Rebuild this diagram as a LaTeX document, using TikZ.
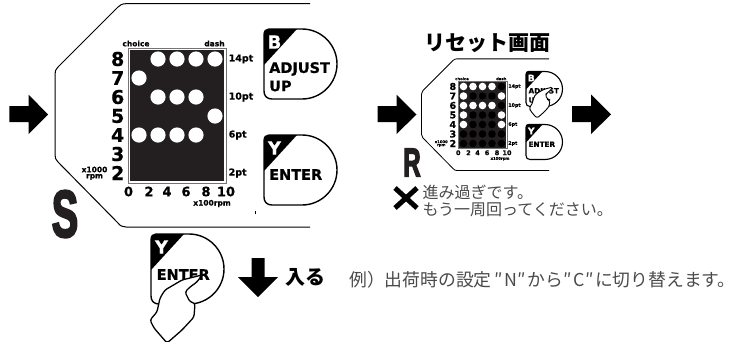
\documentclass[tikz,border=0pt]{standalone}
\usepackage{fontspec}
\setmainfont{Liberation Sans}
\setsansfont{DejaVu Sans}[BoldFeatures={FakeBold=0.6}]
\newfontfamily\jpfont{Noto Sans CJK JP}
\newfontfamily\heavyfont[FakeBold=4]{Liberation Sans Bold}
\definecolor{panelblack}{HTML}{231F20}
\definecolor{jpgray}{HTML}{4A4A4A}
\newcommand{\fsz}[1]{\fontsize{#1}{#1}\selectfont}
\tikzset{
  panel line/.style={draw=black,line width=#1,line join=round},
  btn line/.style={draw=black,line width=#1,fill=white},
  labeltxt/.style={inner sep=0pt,font=\sffamily\bfseries\fsz{#1},text=black},
  bigarrow/.style={fill=black,draw=none},
  handline/.style={draw=black,line width=#1,fill=white,line join=round,rounded corners=2.5pt},
  jptxt/.style={inner sep=0pt,anchor=west,text=jpgray,font=\jpfont\fsz{#1}},
  jpbold/.style={inner sep=0pt,text=black,font=\jpfont\bfseries\fsz{#1}},
}
% button: #1 prefix, #2 x, #3 y, #4 letter, #5 line width, #6 letter size
\newcommand{\drawbutton}[6]{%
  \begin{scope}[shift={(#2,#3)}]
    \path[btn line=#5] (5,0) -- (38,0) .. controls (57.3,0) and (73,15.7) .. (73,35)
      .. controls (73,54.3) and (57.3,70) .. (38,70) -- (8,70)
      .. controls (3,70) and (0,67) .. (0,62) -- (0,6) .. controls (0,2) and (2,0) .. (5,0) -- cycle;
    \fill[black] (0,36) -- (0,6) .. controls (0,2) and (2,0) .. (5,0) -- (33,0) -- cycle;
    \node[labeltxt=#6,text=white,transform shape] (#1letter) at (10.5,13) {#4};
  \end{scope}}
% hand with fingertip at local origin
\newcommand{\drawhand}[5]{%
  \begin{scope}[shift={(#1,#2)},xscale=#3,yscale=#4]
    \path[handline=#5] (0,0) -- (-20,5) -- (-37,15) -- (-42,23) -- (-45,37) -- (-52,45)
      -- (-48,53) -- (-35,68) -- (-28,62) -- (-20,55) -- (-8,42) -- (-7,28) -- (-12,27)
      -- (-17,17) -- (-12,12) -- (-5,7) -- cycle;
  \end{scope}}
% control panel with dot matrix
\newcommand{\drawpanel}[2]{% #1 prefix, #2 line factor
  \path[panel line=#2*1pt] (310,3.7) -- (126,3.7) .. controls (122,3.7) and (120,5) .. (118,7)
    -- (58,67) .. controls (56,69) and (55,71) .. (55,74) -- (55,155)
    .. controls (55,158) and (56,160) .. (58,162) -- (118,223) .. controls (120,226) and (123,227) .. (126,227) -- (310,227);
  \path[draw=black!55,fill=white,line width=#2*.8pt] (128,48) rectangle (226,183);
  \fill[panelblack] (130,50) rectangle (224,181);
  \foreach \l/\yy in {8/59,7/78,6/97,5/116,4/135,3/154,2/173}
    \node[labeltxt=19,anchor=east,transform shape] (#1n\l) at (124.5,\yy) {\l};
  \foreach \l/\xx in {0/128.5,2/149,4/167,6/186,8/206,10/226}
    \node[labeltxt=13,transform shape] (#1x\l) at (\xx,191.5) {\l};
  \node[labeltxt=7.5,transform shape] (#1choice) at (136,43.5) {choice};
  \node[labeltxt=7.5,transform shape] (#1dash) at (214.5,43.5) {dash};
  \node[labeltxt=7.5,transform shape] (#1xh) at (212,203.5) {x100rpm};
  \node[labeltxt=7.5,transform shape] (#1xk) at (94.5,169.5) {x1000};
  \node[labeltxt=7.5,transform shape] (#1rpm) at (94.5,177) {rpm};
  \foreach \l/\yy in {14pt/59,10pt/97,6pt/135,2pt/173}
    \node[labeltxt=9.5,anchor=west,transform shape] (#1p\l) at (228.5,\yy) {\l};
  \drawbutton{#1b}{264}{29}{B}{#2*1.4pt}{18}
  \node[labeltxt=14.5,anchor=west,transform shape] (#1adj) at (269,69) {ADJUST};
  \node[labeltxt=14.5,anchor=west,transform shape] (#1up) at (269,86) {UP};
  \drawbutton{#1y}{264}{135}{Y}{#2*1.4pt}{18}
  \node[labeltxt=14.5,anchor=west,transform shape] (#1ent) at (269,174.5) {ENTER};
}
\begin{document}
\begin{tikzpicture}[x=1pt,y=-1pt]
\useasboundingbox (0,0) rectangle (737,341);
% ---- large panel
\drawpanel{a}{1}
\foreach \xx/\yy in {158/59,177/59,196/59,215/59,139/78,158/97,177/97,196/97,215/116,139/135,158/135,177/135,196/135}
  \fill[white] (\xx,\yy) circle[radius=7.6];
\fill[black] (255.2,210.5) rectangle (256,213.5);
% ---- small panel
\begin{scope}[shift={(394,57)},scale=.5]
  \drawpanel{c}{.8}
  \foreach \xx/\yy in {215/59,158/78,177/78,196/78,215/97,158/116,177/116,196/116,158/135,177/135,196/135,139/154,158/154,177/154,196/154,215/154,139/173,158/173,177/173,196/173,215/173}
    \fill[black] (\xx,\yy) circle[radius=7.6];
  \foreach \xx/\yy in {139/59,158/59,177/59,196/59,139/78,215/78,139/97,158/97,177/97,196/97,139/116,215/116,139/135,215/135}
    \fill[white] (\xx,\yy) circle[radius=7.6];
\end{scope}
\drawhand{553}{87}{.46}{.46}{.9pt}
% ---- pressed button
\drawbutton{e}{151}{234}{Y}{1.4pt}{18}
\node[labeltxt=14.5,anchor=west] (eent) at (156.5,274.5) {ENTER};
\drawhand{202}{275}{1}{1}{1.3pt}
% ---- arrows
\fill[bigarrow] (9.3,106) -- (28.5,106) -- (28.5,94.5) -- (48,114.5) -- (28.5,134) -- (28.5,122) -- (9.3,122) -- cycle;
\fill[bigarrow] (377.5,106) -- (396.5,106) -- (396.5,94.5) -- (416.5,114.5) -- (396.5,134) -- (396.5,122) -- (377.5,122) -- cycle;
\fill[bigarrow] (572,106) -- (591,106) -- (591,94.5) -- (611,114.5) -- (591,134) -- (591,122) -- (572,122) -- cycle;
\fill[bigarrow] (251.5,258) -- (264.5,258) -- (264.5,277) -- (278,277) -- (258,297) -- (238,277) -- (251.5,277) -- cycle;
% ---- cross
\draw[black,line width=5pt] (395,188) -- (417,208) (395,208) -- (417,188);
% ---- big letters
\node[inner sep=0pt,font=\heavyfont\fsz{66},xscale=.6,text=panelblack] (bigS) at (65,214) {S};
\node[inner sep=0pt,font=\heavyfont\fsz{40},xscale=.6,text=panelblack] (bigR) at (412,162.5) {R};
% ---- Japanese text
\node[jpbold=21] (title) at (487.5,43) {リセット画面};
\node[jpbold=20] (enter) at (305,277) {入る};
\node[jptxt=16] (line1) at (422.5,192) {進み過ぎです。};
\node[jptxt=16] (line2) at (422.5,209.5) {もう一周回ってください。};
\node[jptxt=17.8] (note) at (349,280) {例）出荷時の設定\kern3pt″\kern1pt N\kern1pt″\kern1pt から\kern1pt″\kern1pt C\kern1pt″\kern1pt に切り替えます。};
\end{tikzpicture}
\end{document}
